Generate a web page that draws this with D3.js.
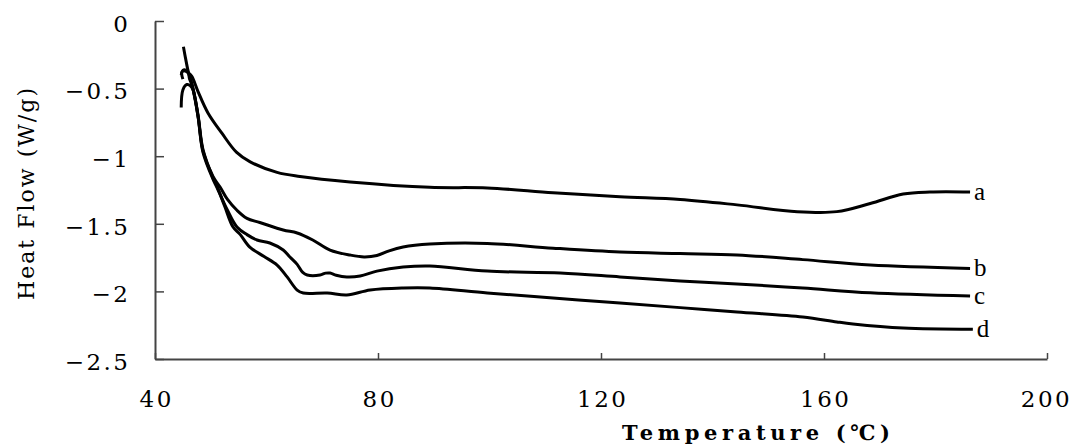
<!DOCTYPE html>
<html>
<head>
<meta charset="utf-8">
<script src="https://cdn.jsdelivr.net/npm/d3@7"></script>
<style>
  html, body { margin: 0; padding: 0; background: #fff; }
  svg { display: block; }
</style>
</head>
<body>
<svg id="chart" width="1074" height="446"></svg>
<script>
// DSC heat-flow curves of four samples (a–d)
const xTicks = [40, 80, 120, 160, 200];
const yTicks = [0, -0.5, -1, -1.5, -2, -2.5];
const yTickLabels = ["0", "\u22120.5", "\u22121", "\u22121.5", "\u22122", "\u22122.5"];
const seriesNames = ["a", "b", "c", "d"];

const seriesA = [
  [45.0, -0.43], [44.8, -0.38], [45.3, -0.36], [45.9, -0.38], [46.6, -0.41], [47.7, -0.52],
  [49.5, -0.68], [52.0, -0.83], [54.6, -0.97], [57.0, -1.04], [61.9, -1.12], [66.0, -1.15],
  [75.0, -1.19], [89.3, -1.23], [99.6, -1.235], [111.4, -1.27], [123.4, -1.30], [134.2, -1.32],
  [144.4, -1.36], [155.2, -1.41], [162.3, -1.41], [168.3, -1.35], [174.2, -1.28], [179.0, -1.265],
  [186.2, -1.265]
];
const seriesB = [
  [44.7, -0.64], [45.0, -0.51], [45.7, -0.47], [46.6, -0.49], [47.7, -0.70], [48.6, -0.96],
  [50.4, -1.15], [51.7, -1.23], [53.0, -1.32], [54.7, -1.40], [56.5, -1.46], [58.8, -1.49],
  [63.0, -1.546], [65.5, -1.568], [68.3, -1.62], [71.4, -1.694], [75.0, -1.731], [77.5, -1.745],
  [79.8, -1.735], [82.0, -1.70], [84.5, -1.672], [89.3, -1.65], [99.6, -1.645], [111.4, -1.68],
  [123.4, -1.709], [134.2, -1.72], [144.4, -1.73], [156.2, -1.765], [168.3, -1.805], [186.2, -1.83]
];
const seriesC = [
  [44.7, -0.40], [45.0, -0.37], [45.9, -0.38], [46.2, -0.43], [46.6, -0.47], [47.7, -0.70],
  [48.6, -0.97], [50.4, -1.17], [51.1, -1.23], [53.0, -1.40], [54.7, -1.524], [56.5, -1.58],
  [58.3, -1.62], [60.6, -1.642], [63.0, -1.694], [64.2, -1.746], [65.5, -1.80], [66.5, -1.86],
  [67.3, -1.879], [69.6, -1.879], [70.6, -1.865], [71.4, -1.864], [72.5, -1.88], [74.4, -1.893],
  [76.8, -1.886], [79.8, -1.85], [84.5, -1.82], [89.3, -1.812], [99.6, -1.85], [112.7, -1.864],
  [123.4, -1.893], [134.2, -1.923], [144.4, -1.945], [156.2, -1.975], [168.3, -2.01], [186.2, -2.034]
];
const seriesD = [
  [45.1, -0.19], [45.5, -0.28], [46.0, -0.38], [46.6, -0.46], [47.7, -0.69], [48.6, -0.95],
  [50.4, -1.16], [51.1, -1.22], [52.5, -1.37], [54.0, -1.524], [55.3, -1.58], [57.0, -1.672],
  [59.5, -1.74], [61.9, -1.805], [63.7, -1.893], [65.5, -1.99], [66.6, -2.012], [70.9, -2.012],
  [74.4, -2.027], [78.6, -1.99], [84.5, -1.975], [89.3, -1.975], [99.6, -2.012], [111.4, -2.049],
  [123.4, -2.086], [134.2, -2.12], [144.4, -2.152], [156.2, -2.189], [162.3, -2.226], [165.2, -2.241],
  [174.2, -2.271], [186.7, -2.28]
];
const seriesValues = [seriesA, seriesB, seriesC, seriesD];

const svg = d3.select("#chart");
const plot = { left: 155, right: 1047, top: 21, bottom: 359 };

const x = d3.scaleLinear().domain([40, 200]).range([plot.left, plot.right]);
const y = d3.scaleLinear().domain([-2.5, 0]).range([plot.bottom, plot.top]);

const axisColor = "#444";
const tickFont = "'DejaVu Serif', serif";
const labelFont = "'Liberation Serif', 'Times New Roman', serif";
const tickSpacing = 2.5;

// y axis, ticks pointing into the plot
const yAxis = svg.append("g")
  .attr("transform", `translate(${plot.left},0)`)
  .call(d3.axisLeft(y).tickValues(yTicks).tickSize(-9).tickSizeOuter(0).tickPadding(27)
    .tickFormat((d, i) => yTickLabels[i]));
yAxis.select(".domain").attr("stroke", axisColor).attr("stroke-width", 2);
yAxis.selectAll(".tick line").attr("stroke", axisColor).attr("stroke-width", 1.5);
yAxis.selectAll(".tick text")
  .attr("font-family", tickFont).attr("font-size", 23).attr("fill", "#000")
  .attr("letter-spacing", tickSpacing).attr("dx", tickSpacing)
  .attr("dy", "0.45em");

// x axis, ticks pointing into the plot
const xAxis = svg.append("g")
  .attr("transform", `translate(0,${plot.bottom})`)
  .call(d3.axisBottom(x).tickValues(xTicks).tickSize(-6).tickSizeOuter(0).tickPadding(32)
    .tickFormat(d3.format("d")));
xAxis.select(".domain").attr("stroke", axisColor).attr("stroke-width", 2);
xAxis.selectAll(".tick line").attr("stroke", axisColor).attr("stroke-width", 1.5);
xAxis.selectAll(".tick text")
  .attr("font-family", tickFont).attr("font-size", 23).attr("fill", "#000")
  .attr("letter-spacing", tickSpacing).attr("dx", tickSpacing / 2);
// keep the last tick label inside the frame
xAxis.selectAll(".tick:last-of-type text").attr("dx", -1);

// axis titles
svg.append("text")
  .attr("x", 622).attr("y", 440)
  .attr("font-family", tickFont).attr("font-size", 21).attr("font-weight", "bold")
  .attr("textLength", 268).attr("lengthAdjust", "spacing")
  .text("Temperature (\u2103)");

svg.append("text")
  .attr("transform", "translate(34,194) rotate(-90)")
  .attr("text-anchor", "middle")
  .attr("font-family", tickFont).attr("font-size", 22)
  .attr("textLength", 212).attr("lengthAdjust", "spacing")
  .text("Heat Flow (W/g)");

// curves
const line = d3.line()
  .x(d => x(d[0]))
  .y(d => y(d[1]))
  .curve(d3.curveCatmullRom.alpha(0.5));

svg.append("g").selectAll("path")
  .data(seriesValues)
  .join("path")
  .attr("d", line)
  .attr("fill", "none")
  .attr("stroke", "#000")
  .attr("stroke-width", 3)
  .attr("stroke-linejoin", "round");

// curve labels at the right-hand ends
svg.append("g").selectAll("text")
  .data(seriesValues)
  .join("text")
  .attr("x", d => x(d[d.length - 1][0]) + 4)
  .attr("y", d => y(d[d.length - 1][1]) + 8)
  .attr("font-family", labelFont).attr("font-size", 25).attr("fill", "#000")
  .text((d, i) => seriesNames[i]);
</script>
</body>
</html>
